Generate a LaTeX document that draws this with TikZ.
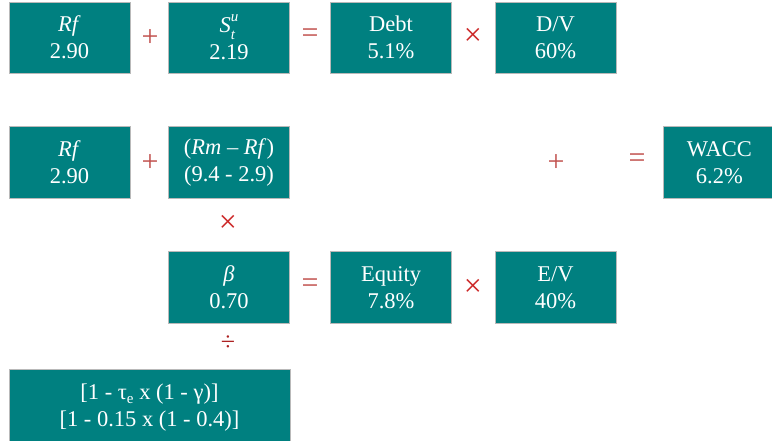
\documentclass[tikz,border=0pt]{standalone}
\usepackage{fontspec}
\setmainfont{Liberation Serif}
\definecolor{teal1}{RGB}{0,128,128}
\definecolor{opred}{RGB}{192,80,77}
\definecolor{xred}{RGB}{204,40,40}
\begin{document}
\begin{tikzpicture}[x=1pt,y=-1pt,
  box/.style={fill=teal1,draw=gray!55,line width=0.8pt,text=white,
    font=\fontsize{22.5}{27}\selectfont,align=center,inner sep=0pt,
    minimum width=121pt,minimum height=71pt},
  op/.style={text=opred,font=\fontsize{30}{30}\selectfont,inner sep=0pt},
  xop/.style={text=xred,font=\fontsize{32}{32}\selectfont,inner sep=0pt}]
\useasboundingbox (0,0) rectangle (772,440);
\clip (0,0) rectangle (772,440);
% row 1
\node[box] (rfa) at (69.5,37.5) {\textit{Rf}\\2.90};
\node[box] (st) at (229,37.5) {\textit{S}\rlap{\raisebox{-0.3em}{\fontsize{15}{15}\selectfont\textit{t}}}\raisebox{0.5em}{\fontsize{15}{15}\selectfont\textit{u}}\\2.19};
\node[box] (debt) at (391,37.5) {Debt\\5.1\%};
\node[box] (dv) at (555.5,37.5) {D/V\\60\%};
\node[op] (p1) at (150,38) {+};
\node[op] (e1) at (310,36) {=};
\node[xop] (m1) at (473,37) {×};
% row 2
\node[box,minimum height=72pt] (rfb) at (69.5,162.5) {\textit{Rf}\\2.90};
\node[box,minimum height=72pt] (rm) at (229,162.5) {(\textit{Rm} – \textit{Rf})\\(9.4 - 2.9)};
\node[op] (p2) at (150,163) {+};
\node[op] (p3) at (556,163) {+};
\node[op] (e3) at (637,161) {=};
\node[box,minimum height=72pt,minimum width=112pt,anchor=west] (wacc) at (663,162.5) {WACC\\6.2\%};
\node[xop] (m2) at (228,224) {×};
% row 3
\node[box,minimum height=72pt] (beta) at (229,287.5) {\textit{β}\\0.70};
\node[box,minimum height=72pt] (eq) at (391,287.5) {Equity\\7.8\%};
\node[box,minimum height=72pt] (ev) at (555.5,287.5) {E/V\\40\%};
\node[op] (e2) at (310,286) {=};
\node[xop] (m3) at (473,288) {×};
\node[op,text=xred!85!black,font=\fontsize{26}{26}\selectfont] (d1) at (228,343) {÷};
% bottom
\node[box,minimum width=281pt,minimum height=76pt,anchor=north] (tax) at (149.5,369) {{[}1 - τ\raisebox{-0.2em}{\fontsize{15}{15}\selectfont e} x (1 - γ){]}\\{[}1 - 0.15 x (1 - 0.4){]}};
\end{tikzpicture}
\end{document}
